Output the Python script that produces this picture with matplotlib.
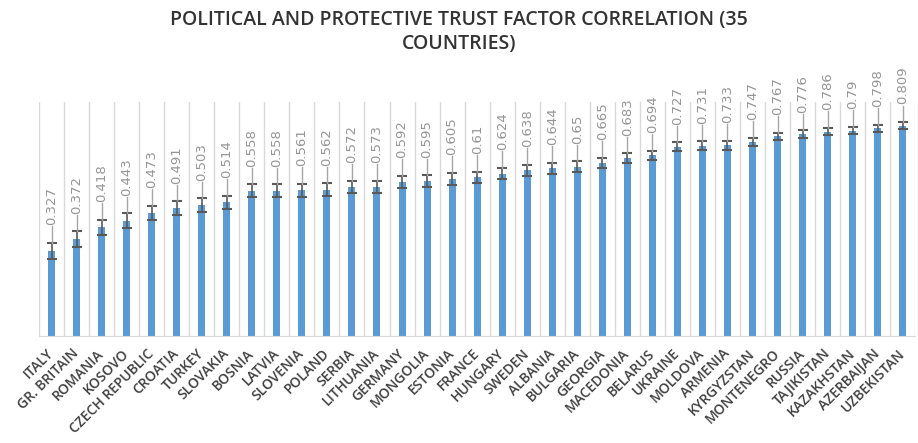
import numpy as np
import matplotlib.pyplot as plt

countries = ["ITALY", "GR. BRITAIN", "ROMANIA", "KOSOVO", "CZECH REPUBLIC", "CROATIA",
             "TURKEY", "SLOVAKIA", "BOSNIA", "LATVIA", "SLOVENIA", "POLAND", "SERBIA",
             "LITHUANIA", "GERMANY", "MONGOLIA", "ESTONIA", "FRANCE", "HUNGARY", "SWEDEN",
             "ALBANIA", "BULGARIA", "GEORGIA", "MACEDONIA", "BELARUS", "UKRAINE", "MOLDOVA",
             "ARMENIA", "KYRGYZSTAN", "MONTENEGRO", "RUSSIA", "TAJIKISTAN", "KAZAKHSTAN",
             "AZERBAIJAN", "UZBEKISTAN"]
corr = [0.327, 0.372, 0.418, 0.443, 0.473, 0.491, 0.503, 0.514, 0.558, 0.558, 0.561,
        0.562, 0.572, 0.573, 0.592, 0.595, 0.605, 0.61, 0.624, 0.638, 0.644, 0.65,
        0.665, 0.683, 0.694, 0.727, 0.731, 0.733, 0.747, 0.767, 0.776, 0.786, 0.79,
        0.798, 0.809]
err = [0.031, 0.030, 0.029, 0.028, 0.027, 0.027, 0.026, 0.026, 0.025, 0.025, 0.025,
       0.025, 0.024, 0.024, 0.023, 0.023, 0.023, 0.022, 0.022, 0.021, 0.021, 0.021,
       0.020, 0.019, 0.019, 0.017, 0.017, 0.017, 0.016, 0.015, 0.015, 0.014, 0.014,
       0.014, 0.013]

x = np.arange(len(countries))

fig = plt.figure(figsize=(9.18, 4.43), dpi=100)
ax = fig.add_axes([0.0425, 0.2415, 0.9545, 0.5285])

# light vertical grid between the categories
for i in range(len(countries) + 1):
    ax.axvline(i - 0.5, color="#d9d9d9", lw=1, zorder=0)

ax.bar(x, corr, width=0.28, color="#5b9bd5", zorder=2)
ax.errorbar(x, corr, yerr=err, fmt="none", ecolor="#595959", elinewidth=1.2,
            capsize=3.5, capthick=1.5, zorder=3)

# leader line + value label above each bar
for xi, v, e in zip(x, corr, err):
    top = v + e
    ax.plot([xi, xi], [top, top + 0.064], color="#a6a6a6", lw=1, zorder=3, clip_on=False)
    ax.text(xi, top + 0.068, f"{v:g}", rotation=90, ha="center", va="bottom",
            fontsize=9.5, color="#959595", clip_on=False)

ax.set_xlim(-0.5, len(countries) - 0.5)
ax.set_ylim(0, 0.9)
ax.set_yticks([])
ax.set_xticks(x)
ax.set_xticklabels(countries, rotation=45, ha="right", va="center",
                   rotation_mode="anchor", fontsize=10, fontweight="semibold",
                   color="#404040", family="Open Sans")
ax.tick_params(axis="x", length=0, pad=11)
for s in ["top", "left", "right"]:
    ax.spines[s].set_visible(False)
ax.spines["bottom"].set_color("#d9d9d9")

fig.text(0.5, 0.978, "POLITICAL AND PROTECTIVE TRUST FACTOR CORRELATION (35\nCOUNTRIES)",
         ha="center", va="top", fontsize=14, fontweight="semibold", color="#333333",
         family="Open Sans", linespacing=1.3)

fig.savefig("out.png", dpi=100)
